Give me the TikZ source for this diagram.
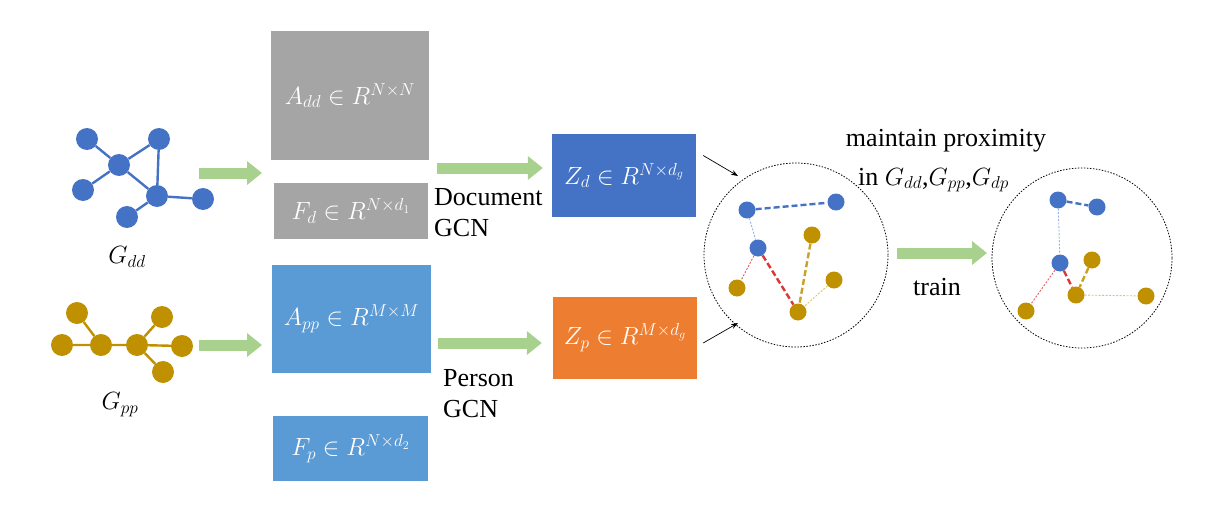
\documentclass[tikz,border=0pt]{standalone}
\usepackage{amsmath}
\usepackage{fontspec}
\setmainfont{Liberation Serif}
\newfontfamily\labelfont{Liberation Serif}
\usepackage{tikz}
\usetikzlibrary{positioning, arrows.meta}
\definecolor{DocBlue}{HTML}{4472C4}
\definecolor{PerGold}{HTML}{BF9000}
\definecolor{MatGray}{HTML}{A5A5A5}
\definecolor{MatBlue}{HTML}{5B9BD5}
\definecolor{EmbOrange}{HTML}{ED7D31}
\definecolor{FlowGreen}{HTML}{A9D18E}
\definecolor{LinkRed}{HTML}{DC3535}
\tikzset{Mat/.style={rectangle, inner sep=0pt, text=white, font=\fontsize{24}{28}\selectfont}}
\tikzset{Label/.style={inner sep=0pt, font=\labelfont\fontsize{26}{31}\selectfont}}
\tikzset{DNode/.style={circle, fill=DocBlue, inner sep=0pt, minimum size=22pt}}
\tikzset{PNode/.style={circle, fill=PerGold, inner sep=0pt, minimum size=22pt}}
\tikzset{DEmb/.style={circle, fill=DocBlue, inner sep=0pt, minimum size=17pt}}
\tikzset{PEmb/.style={circle, fill=PerGold, inner sep=0pt, minimum size=17pt}}
\tikzset{Graph Edge/.style={draw, line width=2.4pt}}
\tikzset{Strong/.style={draw, line width=2.4pt, dash pattern=on 6pt off 3pt}}
\tikzset{Weak/.style={draw, line width=0.9pt, dash pattern=on 2pt off 1.5pt}}
\tikzset{Space/.style={draw, circle, line width=0.8pt, dash pattern=on 1.5pt off 1.5pt}}
\tikzset{Flow/.style={draw=FlowGreen, line width=11pt, -{Triangle[width=23pt,length=15pt]}}}
\tikzset{Pointer/.style={draw, line width=0.7pt, -{Stealth[length=7pt,width=5pt]}}}

\begin{document}
\begin{tikzpicture}[x=1pt, y=-1pt]
\useasboundingbox (0,0) rectangle (1221,511);

% document graph
\node[DNode] (d1) at (87,139) {};
\node[DNode] (d2) at (159,139) {};
\node[DNode] (d3) at (119,165) {};
\node[DNode] (d4) at (83,190) {};
\node[DNode] (d5) at (157,196) {};
\node[DNode] (d6) at (203,199) {};
\node[DNode] (d7) at (127,217) {};
\path[Graph Edge, DocBlue] (d1) -- (d3) (d3) -- (d2) (d2) -- (d5) (d3) -- (d5)
  (d3) -- (d4) (d5) -- (d6) (d5) -- (d7);
\node[Label] (gdd) at (127,257) {$G_{dd}$};

% person graph
\node[PNode] (p1) at (77,313) {};
\node[PNode] (p2) at (62,345) {};
\node[PNode] (p3) at (101,345) {};
\node[PNode] (p4) at (137,345) {};
\node[PNode] (p5) at (162,317) {};
\node[PNode] (p6) at (182,346) {};
\node[PNode] (p7) at (163,372) {};
\path[Graph Edge, PerGold] (p1) -- (p3) (p2) -- (p3) (p3) -- (p4) (p4) -- (p5)
  (p4) -- (p6) (p4) -- (p7);
\node[Label] (gpp) at (120,405) {$G_{pp}$};

% input matrices
\node[Mat, fill=MatGray, minimum width=158pt, minimum height=129pt] (add) at (350,95.5) {$A_{dd}\in R^{N\times N}$};
\node[Mat, fill=MatGray, minimum width=154pt, minimum height=56pt] (fd) at (351,211) {$F_{d}\in R^{N\times d_1}$};
\node[Mat, fill=MatBlue, minimum width=159pt, minimum height=108pt] (app) at (351.5,319) {$A_{pp}\in R^{M\times M}$};
\node[Mat, fill=MatBlue, minimum width=155pt, minimum height=65pt] (fp) at (350.5,448.5) {$F_{p}\in R^{N\times d_2}$};

% embeddings
\node[Mat, fill=DocBlue, minimum width=144pt, minimum height=83pt] (zd) at (624,175.5) {$Z_{d}\in R^{N\times d_g}$};
\node[Mat, fill=EmbOrange, minimum width=144pt, minimum height=82pt] (zp) at (625,338) {$Z_{p}\in R^{M\times d_g}$};

\node[Label, anchor=base west, align=left] (dgcn) at (434,236) {Document\\GCN};
\node[Label, anchor=base west, align=left] (pgcn) at (443,417) {Person\\GCN};

% flow arrows
\coordinate (ddout) at (199,173);
\coordinate (ddin) at (262,173);
\coordinate (ppout) at (199,345);
\coordinate (ppin) at (262,345);
\coordinate (gcnd) at (437,168);
\coordinate (gcnp) at (438,343);
\draw[Flow] (ddout) -- (ddin);
\draw[Flow] (ppout) -- (ppin);
\draw[Flow, shorten >=9pt] (gcnd) -- (gcnd -| zd.west);
\draw[Flow, shorten >=11pt] (gcnp) -- (gcnp -| zp.west);

% joint space before training
\node[Space, minimum size=184pt] (space1) at (796,255) {};
\node[DEmb] (a1) at (747,210) {};
\node[DEmb] (b1) at (836,202) {};
\node[DEmb] (c1) at (758,248) {};
\node[PEmb] (e1) at (737,288) {};
\node[PEmb] (f1) at (798,312) {};
\node[PEmb] (h1) at (812,235) {};
\node[PEmb] (g1) at (834,280) {};
\draw[Strong, DocBlue] (a1) -- (b1);
\draw[Weak, DocBlue!55] (a1) -- (c1);
\draw[Weak, LinkRed!80] (c1) -- (e1);
\draw[Strong, LinkRed] (c1) -- (f1);
\draw[Strong, PerGold!85] (h1) -- (f1);
\draw[Weak, PerGold!55] (g1) -- (f1);

\coordinate (zdtip) at (738,176);
\coordinate (zptip) at (738,323);
\draw[Pointer] ([shift={(7,-20)}]zd.east) -- (zdtip);
\draw[Pointer] ([shift={(6,5)}]zp.east) -- (zptip);

\node[Label] (keep) at (946,141) {maintain proximity};
\node[Label, anchor=base west] (keepin) at (858,185) {in $G_{dd}$,$G_{pp}$,$G_{dp}$};

% joint space after training
\coordinate (trainout) at (897,253);
\coordinate (trainin) at (987,253);
\draw[Flow] (trainout) -- (trainin);
\node[Label, anchor=base] (train) at (937,295) {train};

\node[Space, minimum size=180pt] (space2) at (1082,258) {};
\node[DEmb] (a2) at (1058,200) {};
\node[DEmb] (b2) at (1097,207) {};
\node[DEmb] (c2) at (1060,263) {};
\node[PEmb] (h2) at (1092,260) {};
\node[PEmb] (f2) at (1076,295) {};
\node[PEmb] (e2) at (1026,311) {};
\node[PEmb] (g2) at (1146,296) {};
\draw[Strong, DocBlue] (a2) -- (b2);
\draw[Weak, DocBlue!55] (a2) -- (c2);
\draw[Weak, LinkRed!80] (c2) -- (e2);
\draw[Strong, LinkRed] (c2) -- (f2);
\draw[Strong, PerGold!85] (h2) -- (f2);
\draw[Weak, PerGold!55] (f2) -- (g2);
\end{tikzpicture}
\end{document}
